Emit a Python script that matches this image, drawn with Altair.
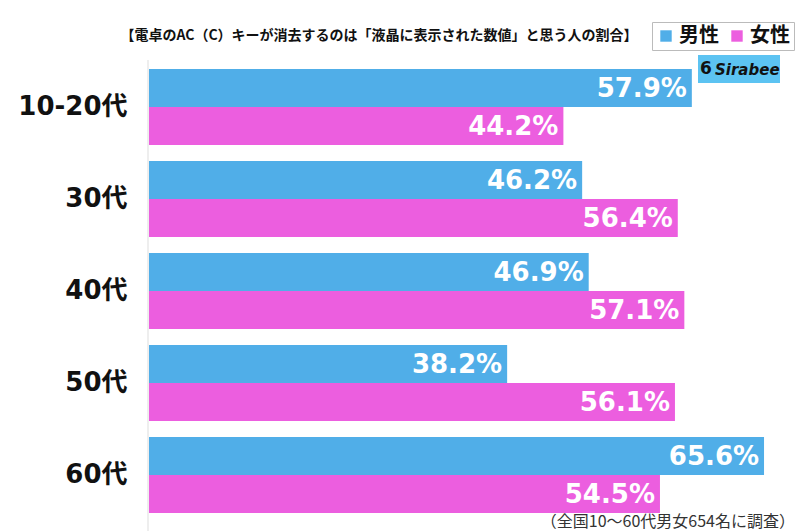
import altair as alt
import pandas as pd

ages = ["10-20代", "30代", "40代", "50代", "60代"]
male = [57.9, 46.2, 46.9, 38.2, 65.6]
female = [44.2, 56.4, 57.1, 56.1, 54.5]
sexes = ["男性", "女性"]
colors = ["#50AEE8", "#EC5EDF"]

rows = []
for a, m, f in zip(ages, male, female):
    rows.append({"age": a, "sex": "男性", "value": m, "label": f"{m:.1f}%"})
    rows.append({"age": a, "sex": "女性", "value": f, "label": f"{f:.1f}%"})
df = pd.DataFrame(rows)

FONT = "Noto Sans CJK JP"
NUMFONT = "DejaVu Sans, Noto Sans CJK JP"
W, H = 650, 460

y_enc = alt.Y("age:N", sort=ages, title=None,
              scale=alt.Scale(paddingInner=0.174, paddingOuter=0.087),
              axis=alt.Axis(labelFontSize=26, labelFontWeight="bold", labelColor="#111",
                            labelFont=NUMFONT, ticks=False, labelPadding=22, domain=False))
x_enc = alt.X("value:Q", scale=alt.Scale(domain=[0, 69.33], nice=False), axis=None)
yoff = alt.YOffset("sex:N", sort=sexes)

bars = alt.Chart(df).mark_bar().encode(
    y=y_enc, x=x_enc, yOffset=yoff,
    color=alt.Color("sex:N", sort=sexes,
                    scale=alt.Scale(domain=sexes, range=colors),
                    legend=alt.Legend(title=None, orient="none", direction="horizontal",
                                      legendX=503, legendY=-39, symbolType="square",
                                      symbolSize=130, symbolStrokeWidth=0,
                                      labelFontSize=20, labelFontWeight="bold",
                                      labelFont=FONT, labelColor="#111",
                                      strokeColor="#bbb", padding=4, columnPadding=8,
                                      labelOffset=3, fillColor="white")),
)

labels = alt.Chart(df).mark_text(align="right", baseline="middle", dx=-5, dy=1,
                                 fontSize=26, fontWeight="bold", color="white",
                                 font=NUMFONT).encode(
    y=alt.Y("age:N", sort=ages), x="value:Q", yOffset=yoff, text="label:N")

axis_line = alt.Chart(pd.DataFrame({"a": [0]})).mark_rule(color="#dddddd", strokeWidth=1).encode(
    x=alt.value(-1), y=alt.value(-1), y2=alt.value(470))

title_df = pd.DataFrame({"t": ["【電卓のAC（C）キーが消去するのは「液晶に表示された数値」と思う人の割合】"]})
title = alt.Chart(title_df).mark_text(fontSize=14, fontWeight="bold", color="#111",
                                      font=FONT, align="center", baseline="middle").encode(
    x=alt.value(230), y=alt.value(-25), text="t:N")

note_df = pd.DataFrame({"t": ["（全国10～60代男女654名に調査）"]})
note = alt.Chart(note_df).mark_text(fontSize=16, color="#333", font=FONT,
                                    align="right", baseline="middle").encode(
    x=alt.value(646), y=alt.value(461), text="t:N")

logo_bg = alt.Chart(pd.DataFrame({"a": [0]})).mark_rect(color="#5CC3F2").encode(
    x=alt.value(549), x2=alt.value(631), y=alt.value(-6), y2=alt.value(22))
logo_txt = alt.Chart(pd.DataFrame({"t": ["Sirabee"]})).mark_text(
    fontSize=15, fontWeight="bold", fontStyle="italic", color="#111", font="DejaVu Sans",
    align="left", baseline="middle").encode(x=alt.value(566), y=alt.value(9), text="t:N")
logo_icon = alt.Chart(pd.DataFrame({"t": ["6"]})).mark_text(
    fontSize=17, fontWeight="bold", color="#111", font="DejaVu Sans",
    align="center", baseline="middle").encode(x=alt.value(557), y=alt.value(8), text="t:N")

chart = alt.layer(axis_line, bars, labels, title, note, logo_bg, logo_icon, logo_txt).properties(
    width=W, height=H,
    autosize=alt.AutoSizeParams(type="none"),
    padding={"left": 149, "top": 61, "right": 1, "bottom": 11},
    background="white",
).configure_view(stroke=None)

chart.save("out.html", embed_options={"renderer": "svg", "actions": False})
